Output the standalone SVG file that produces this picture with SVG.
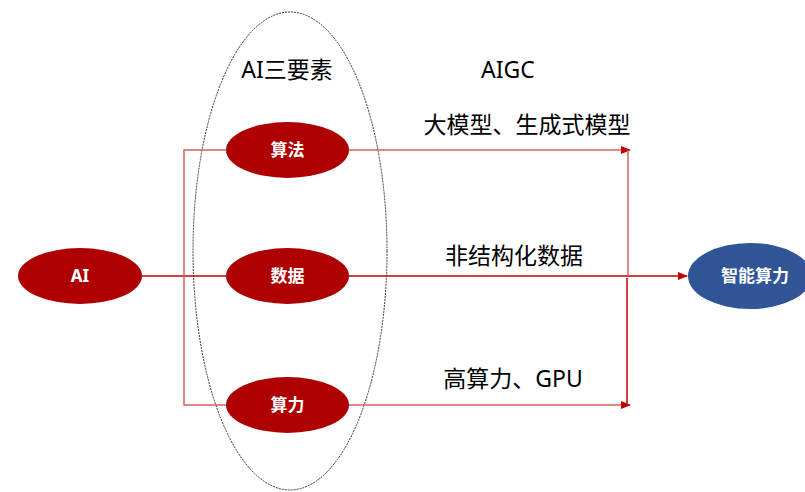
<svg xmlns="http://www.w3.org/2000/svg" width="805" height="492" viewBox="0 0 805 492">
<style>
.red{fill:#ae0000;}
.blue{fill:#2f5597;}
.nt{fill:#fff;font-family:"Noto Sans","Noto Sans CJK SC",sans-serif;font-size:17px;font-weight:bold;text-anchor:middle;}
.lb{fill:#000;font-family:"Noto Sans","Noto Sans CJK SC",sans-serif;font-size:23px;text-anchor:middle;}
.ln{fill:none;stroke:#c00000;stroke-width:1.5;}
.lt{fill:none;stroke:#d46060;stroke-width:1.5;}
</style>
<defs>
<marker id="arr" markerWidth="10" markerHeight="8" refX="9" refY="4" orient="auto" markerUnits="userSpaceOnUse">
<path d="M0,0 L10,4 L0,8 Z" fill="#c00000"/>
</marker>
</defs>
<rect width="805" height="492" fill="#fff"/>
<g id="group-ellipse">
<ellipse cx="290" cy="251" rx="97" ry="239" fill="none" stroke="#333" stroke-width="1" stroke-dasharray="2,1"/>
</g>
<g id="connectors">
<line class="ln" x1="142" y1="276" x2="226" y2="276"/>
<polyline class="lt" points="226,150 184,150 184,405 226,405"/>
<line class="lt" x1="349" y1="150" x2="630" y2="150" marker-end="url(#arr)"/>
<line class="lt" x1="349" y1="405" x2="630" y2="405" marker-end="url(#arr)"/>
<line class="ln" x1="349" y1="276" x2="687" y2="276" marker-end="url(#arr)"/>
<line class="lt" x1="628" y1="150" x2="628" y2="276"/>
<line class="ln" x1="627" y1="278" x2="627" y2="405"/>
</g>
<g id="label-ai3"><text class="lb" x="287" y="78">AI三要素</text></g>
<g id="label-aigc"><text class="lb" x="508" y="78">AIGC</text></g>
<g id="label-model"><text class="lb" x="527" y="133">大模型、生成式模型</text></g>
<g id="label-data"><text class="lb" x="514" y="264">非结构化数据</text></g>
<g id="label-gpu"><text class="lb" x="513" y="387">高算力、GPU</text></g>
<g id="node-ai">
<ellipse class="red" cx="80" cy="276" rx="62" ry="28"/>
<text class="nt" x="80" y="282">AI</text>
</g>
<g id="node-algo">
<ellipse class="red" cx="287.5" cy="150" rx="61.5" ry="28"/>
<text class="nt" x="287.5" y="156">算法</text>
</g>
<g id="node-data">
<ellipse class="red" cx="287.5" cy="276" rx="61.5" ry="28"/>
<text class="nt" x="287.5" y="282">数据</text>
</g>
<g id="node-compute">
<ellipse class="red" cx="287.5" cy="405" rx="61.5" ry="28"/>
<text class="nt" x="287.5" y="411">算力</text>
</g>
<g id="node-smart">
<ellipse class="blue" cx="750" cy="276" rx="62" ry="33"/>
<text class="nt" x="755" y="282">智能算力</text>
</g>
</svg>
